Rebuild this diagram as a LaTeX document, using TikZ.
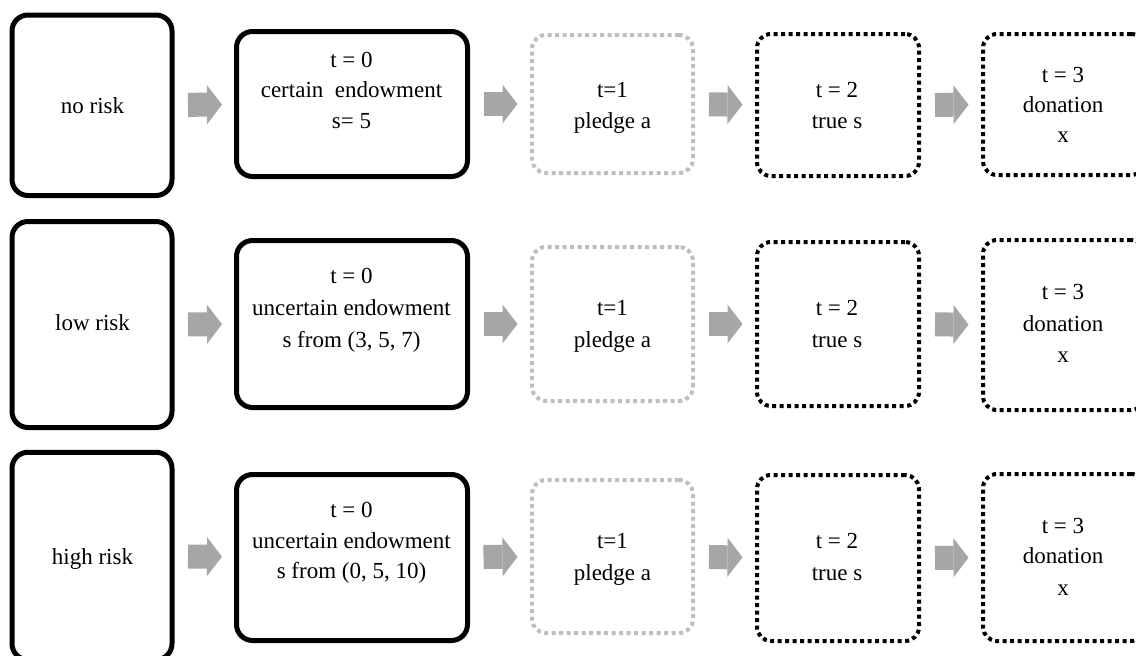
\documentclass[tikz,border=0pt]{standalone}
\usepackage{fontspec}
\setmainfont{Liberation Serif}
\usetikzlibrary{arrows.meta}
\definecolor{arrowgray}{RGB}{166,166,166}
\definecolor{dotgray}{RGB}{191,191,191}
\begin{document}
\begin{tikzpicture}[x=1pt,y=-1pt,
  solidbox/.style={draw=black, line width=5pt, rounded corners=16pt, inner sep=0pt, outer sep=0pt},
  dotbox/.style={draw=black, line width=4pt, dash pattern=on 4pt off 3.5pt, rounded corners=14pt, inner sep=0pt, outer sep=0pt},
  graybox/.style={dotbox, draw=dotgray},
  lbl/.style={anchor=base, inner sep=0pt, font=\fontsize{23}{28}\selectfont},
  blockarrow/.style={draw=arrowgray, line width=24pt, shorten <=16pt, shorten >=14.5pt,
    -{Triangle[length=15pt,width=39pt,line width=0pt]}},
]
\useasboundingbox (0,0) rectangle (1136,656);
\fill[white] (0,0) rectangle (1136,656);
\clip (0,0) rectangle (1136,656);

% ---------- row 1 ----------
\node[solidbox, minimum width=160pt, minimum height=180.5pt] (L1) at (92,105.25) {};
\node[solidbox, minimum width=231pt, minimum height=145pt] (A1) at (352,104) {};
\node[graybox, minimum width=161pt, minimum height=138pt] (B1) at (612.5,104) {};
\node[dotbox, minimum width=162pt, minimum height=142pt] (C1) at (838,105) {};
\node[dotbox, minimum width=162pt, minimum height=141pt] (D1) at (1064,104.5) {};

\node[lbl] (L1t) at (92.5,113) {no risk};
\node[lbl] (A1a) at (351.5,67) {t = 0};
\node[lbl] (A1b) at (351.5,97) {certain~~endowment};
\node[lbl] (A1c) at (351.5,128) {s= 5};
\node[lbl] (B1a) at (612.5,97) {t=1};
\node[lbl] (B1b) at (612.5,128) {pledge a};
\node[lbl] (C1a) at (837,97) {t = 2};
\node[lbl] (C1b) at (837,128) {true s};
\node[lbl] (D1a) at (1063,82) {t = 3};
\node[lbl] (D1b) at (1063,112) {donation};
\node[lbl] (D1c) at (1063,142) {x};

% ---------- row 2 ----------
\node[solidbox, minimum width=160pt, minimum height=206pt] (L2) at (92,324.5) {};
\node[solidbox, minimum width=231pt, minimum height=167pt] (A2) at (352,324) {};
\node[graybox, minimum width=161pt, minimum height=154pt] (B2) at (612.5,324) {};
\node[dotbox, minimum width=162pt, minimum height=164pt] (C2) at (838,324) {};
\node[dotbox, minimum width=162pt, minimum height=170pt] (D2) at (1064,325) {};

\node[lbl] (L2t) at (92.5,330) {low risk};
\node[lbl] (A2a) at (351.5,283) {t = 0};
\node[lbl] (A2b) at (351.5,315) {uncertain endowment};
\node[lbl] (A2c) at (351.5,347) {s from (3, 5, 7)};
\node[lbl] (B2a) at (612.5,315) {t=1};
\node[lbl] (B2b) at (612.5,347) {pledge a};
\node[lbl] (C2a) at (837,315) {t = 2};
\node[lbl] (C2b) at (837,347) {true s};
\node[lbl] (D2a) at (1063,299) {t = 3};
\node[lbl] (D2b) at (1063,331) {donation};
\node[lbl] (D2c) at (1063,362) {x};

% ---------- row 3 ----------
\node[solidbox, minimum width=160pt, minimum height=207.5pt] (L3) at (92,556) {};
\node[solidbox, minimum width=231pt, minimum height=166pt] (A3) at (352,557.5) {};
\node[graybox, minimum width=161pt, minimum height=153pt] (B3) at (612.5,556.5) {};
\node[dotbox, minimum width=162pt, minimum height=166pt] (C3) at (838,558) {};
\node[dotbox, minimum width=162pt, minimum height=167pt] (D3) at (1064,557.5) {};

\node[lbl] (L3t) at (92.5,564) {high risk};
\node[lbl] (A3a) at (351.5,517) {t = 0};
\node[lbl] (A3b) at (351.5,548) {uncertain endowment};
\node[lbl] (A3c) at (351.5,578) {s from (0, 5, 10)};
\node[lbl] (B3a) at (612.5,548) {t=1};
\node[lbl] (B3b) at (612.5,580) {pledge a};
\node[lbl] (C3a) at (837,548) {t = 2};
\node[lbl] (C3b) at (837,580) {true s};
\node[lbl] (D3a) at (1063,533) {t = 3};
\node[lbl] (D3b) at (1063,563) {donation};
\node[lbl] (D3c) at (1063,595) {x};

% ---------- arrows ----------
\foreach \r in {1,2,3}{
  \draw[blockarrow] (L\r) -- (A\r);
  \draw[blockarrow] (A\r) -- (B\r);
  \draw[blockarrow] (B\r) -- (C\r);
  \draw[blockarrow] (C\r) -- (D\r);
}
\end{tikzpicture}
\end{document}
